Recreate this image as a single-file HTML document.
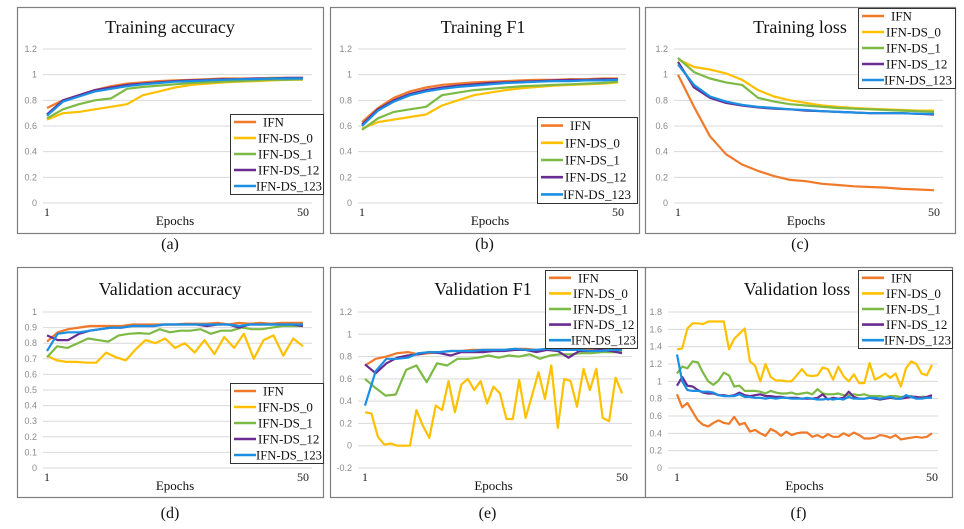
<!DOCTYPE html>
<html><head><meta charset="utf-8"><style>
html,body{margin:0;padding:0;background:#fff;}
svg{display:block;}
</style></head><body>
<svg id="fig" width="964" height="529" viewBox="0 0 964 529" xmlns="http://www.w3.org/2000/svg"></svg>
<script>
const seriesNames = ["IFN","IFN-DS_0","IFN-DS_1","IFN-DS_12","IFN-DS_123"];
const seriesColors = ["#F07A2A","#FFC000","#7CBA45","#6A2C91","#1A8FE3"];

const trainAccIFN = [0.74,0.80,0.84,0.88,0.91,0.93,0.94,0.95,0.955,0.96,0.965,0.97,0.97,0.97,0.975,0.975,0.975];
const trainAccDS0 = [0.65,0.70,0.71,0.73,0.75,0.77,0.84,0.87,0.90,0.92,0.93,0.94,0.945,0.95,0.955,0.96,0.96];
const trainAccDS1 = [0.66,0.73,0.77,0.80,0.815,0.89,0.905,0.915,0.925,0.935,0.94,0.945,0.95,0.955,0.96,0.96,0.965];
const trainAccDS12 = [0.69,0.80,0.84,0.88,0.90,0.92,0.93,0.94,0.95,0.955,0.96,0.965,0.965,0.97,0.97,0.975,0.975];
const trainAccDS123 = [0.68,0.79,0.83,0.87,0.89,0.91,0.925,0.935,0.945,0.95,0.955,0.96,0.965,0.965,0.97,0.97,0.97];

const trainF1IFN = [0.63,0.74,0.82,0.87,0.90,0.92,0.93,0.94,0.945,0.95,0.955,0.96,0.96,0.965,0.965,0.97,0.97];
const trainF1DS0 = [0.58,0.63,0.65,0.67,0.69,0.76,0.80,0.84,0.86,0.88,0.895,0.905,0.915,0.92,0.925,0.93,0.94];
const trainF1DS1 = [0.57,0.66,0.71,0.73,0.75,0.84,0.86,0.88,0.89,0.90,0.91,0.915,0.92,0.925,0.93,0.935,0.945];
const trainF1DS12 = [0.61,0.73,0.80,0.85,0.88,0.90,0.915,0.925,0.935,0.94,0.945,0.95,0.955,0.96,0.96,0.965,0.965];
const trainF1DS123 = [0.60,0.72,0.79,0.84,0.87,0.89,0.905,0.915,0.925,0.935,0.94,0.945,0.95,0.95,0.955,0.955,0.96];

const trainLossIFN = [1.0,0.75,0.52,0.38,0.30,0.25,0.21,0.18,0.17,0.15,0.14,0.13,0.125,0.12,0.11,0.105,0.10];
const trainLossDS0 = [1.12,1.06,1.04,1.01,0.96,0.88,0.83,0.80,0.78,0.76,0.75,0.74,0.735,0.73,0.725,0.72,0.72];
const trainLossDS1 = [1.13,1.02,0.97,0.94,0.92,0.82,0.79,0.77,0.76,0.75,0.74,0.735,0.73,0.725,0.72,0.715,0.71];
const trainLossDS12 = [1.10,0.90,0.82,0.78,0.76,0.745,0.735,0.73,0.72,0.715,0.71,0.705,0.70,0.70,0.70,0.695,0.69];
const trainLossDS123 = [1.08,0.92,0.83,0.79,0.765,0.75,0.74,0.73,0.725,0.715,0.71,0.705,0.70,0.70,0.70,0.695,0.695];

const valAccIFN = [0.81,0.87,0.89,0.90,0.91,0.91,0.91,0.91,0.92,0.92,0.92,0.92,0.92,0.925,0.925,0.925,0.93,0.92,0.93,0.925,0.93,0.925,0.93,0.93,0.93];
const valAccDS0 = [0.72,0.69,0.68,0.68,0.675,0.675,0.74,0.71,0.69,0.76,0.82,0.80,0.83,0.77,0.80,0.74,0.82,0.73,0.84,0.77,0.86,0.70,0.82,0.85,0.72,0.83,0.78];
const valAccDS1 = [0.71,0.78,0.77,0.80,0.83,0.82,0.81,0.85,0.86,0.865,0.86,0.89,0.87,0.88,0.88,0.89,0.86,0.88,0.88,0.90,0.89,0.89,0.90,0.91,0.91,0.91];
const valAccDS12 = [0.85,0.82,0.82,0.86,0.88,0.89,0.90,0.90,0.91,0.91,0.91,0.92,0.92,0.92,0.92,0.91,0.92,0.92,0.90,0.92,0.92,0.92,0.92,0.92,0.91];
const valAccDS123 = [0.75,0.86,0.87,0.87,0.88,0.89,0.90,0.90,0.91,0.91,0.91,0.92,0.92,0.92,0.92,0.92,0.92,0.92,0.91,0.92,0.92,0.92,0.92,0.92,0.92];

const valF1IFN = [0.72,0.78,0.80,0.83,0.84,0.82,0.83,0.84,0.85,0.85,0.86,0.86,0.86,0.86,0.87,0.87,0.86,0.86,0.86,0.86,0.87,0.86,0.86,0.86,0.86];
const valF1DS0 = [0.30,0.29,0.08,0.01,0.02,0.0,0.0,0.0,0.32,0.18,0.07,0.36,0.32,0.58,0.30,0.55,0.60,0.50,0.58,0.38,0.53,0.47,0.24,0.24,0.59,0.25,0.45,0.66,0.42,0.72,0.16,0.60,0.58,0.35,0.69,0.50,0.69,0.25,0.22,0.61,0.47];
const valF1DS1 = [0.60,0.52,0.45,0.46,0.68,0.72,0.57,0.74,0.72,0.78,0.78,0.79,0.81,0.79,0.81,0.80,0.82,0.78,0.81,0.82,0.82,0.83,0.83,0.84,0.84,0.84];
const valF1DS12 = [0.73,0.65,0.74,0.79,0.81,0.82,0.84,0.83,0.81,0.84,0.84,0.84,0.85,0.85,0.86,0.86,0.84,0.86,0.85,0.79,0.85,0.85,0.86,0.85,0.83];
const valF1DS123 = [0.36,0.67,0.78,0.78,0.79,0.83,0.84,0.84,0.85,0.85,0.85,0.86,0.86,0.86,0.87,0.86,0.86,0.87,0.86,0.86,0.86,0.85,0.85,0.86,0.86];

const valLossIFN = [0.85,0.70,0.75,0.65,0.55,0.50,0.48,0.52,0.55,0.52,0.51,0.59,0.50,0.52,0.42,0.44,0.40,0.37,0.45,0.42,0.37,0.42,0.38,0.40,0.41,0.41,0.36,0.38,0.35,0.39,0.36,0.36,0.40,0.37,0.41,0.38,0.34,0.34,0.35,0.38,0.37,0.35,0.38,0.33,0.34,0.35,0.36,0.35,0.36,0.40];
const valLossDS0 = [1.37,1.38,1.61,1.67,1.67,1.66,1.69,1.69,1.69,1.69,1.37,1.49,1.55,1.61,1.23,1.18,1.00,1.20,1.05,1.01,1.01,1.00,1.00,1.07,1.14,1.07,1.06,1.07,1.16,1.14,1.02,1.17,1.06,1.00,1.08,0.98,0.98,1.21,1.02,1.05,1.09,1.04,1.09,0.94,1.15,1.23,1.20,1.09,1.07,1.19];
const valLossDS1 = [1.09,1.17,1.15,1.23,1.22,1.10,1.00,0.96,1.01,1.10,1.07,0.94,0.95,0.89,0.89,0.89,0.88,0.86,0.89,0.87,0.86,0.86,0.87,0.85,0.86,0.87,0.85,0.91,0.86,0.85,0.85,0.86,0.84,0.84,0.85,0.84,0.85,0.83,0.83,0.83,0.82,0.83,0.83,0.82,0.82,0.83,0.81,0.82,0.82,0.83];
const valLossDS12 = [0.95,1.05,0.95,0.94,0.90,0.87,0.86,0.86,0.84,0.84,0.83,0.84,0.87,0.84,0.83,0.84,0.85,0.83,0.83,0.82,0.82,0.81,0.81,0.81,0.80,0.80,0.80,0.81,0.85,0.79,0.81,0.80,0.81,0.88,0.82,0.80,0.80,0.81,0.80,0.79,0.80,0.81,0.80,0.80,0.81,0.82,0.82,0.81,0.82,0.84];
const valLossDS123 = [1.31,1.00,0.90,0.89,0.89,0.88,0.88,0.87,0.84,0.83,0.83,0.83,0.85,0.82,0.82,0.81,0.81,0.80,0.81,0.80,0.81,0.81,0.80,0.80,0.80,0.81,0.80,0.79,0.79,0.80,0.79,0.80,0.79,0.82,0.80,0.80,0.80,0.81,0.81,0.80,0.81,0.82,0.80,0.80,0.84,0.82,0.80,0.80,0.81,0.81];

const ticksA = ["0","0.2","0.4","0.6","0.8","1","1.2"];
const ticksD = ["0","0.1","0.2","0.3","0.4","0.5","0.6","0.7","0.8","0.9","1"];
const ticksE = ["-0.2","0","0.2","0.4","0.6","0.8","1","1.2"];
const ticksF = ["0","0.2","0.4","0.6","0.8","1","1.2","1.4","1.6","1.8"];
const xTickLabels = ["1","50"];

const NS = "http://www.w3.org/2000/svg";
const svg = document.getElementById("fig");
function mk(tag, attrs, parent, text){
  const e = document.createElementNS(NS, tag);
  for (const k in attrs) e.setAttribute(k, attrs[k]);
  if (text !== undefined) e.textContent = text;
  (parent || svg).appendChild(e);
  return e;
}

const panels = [
 {id:"a", title:"Training accuracy", box:[17,7,323,233], xs:[47,303], ypx:[203,49], ticks:ticksA, grid:[43,312], tcx:170, tcy:33, epy:225, xly:216, leg:[230,114,323,194], cap:249, series:[trainAccIFN,trainAccDS0,trainAccDS1,trainAccDS12,trainAccDS123]},
 {id:"b", title:"Training F1", box:[330,7,639,233], xs:[362,618], ypx:[203,49], ticks:ticksA, grid:[358,626], tcx:483, tcy:33, epy:225, xly:216, leg:[537,117,637,203], cap:249, series:[trainF1IFN,trainF1DS0,trainF1DS1,trainF1DS12,trainF1DS123]},
 {id:"c", title:"Training loss", box:[645,7,955,233], xs:[678,934], ypx:[203,49], ticks:ticksA, grid:[674,943], tcx:800, tcy:33, epy:225, xly:216, leg:[858,8,955,88], cap:249, series:[trainLossIFN,trainLossDS0,trainLossDS1,trainLossDS12,trainLossDS123]},
 {id:"d", title:"Validation accuracy", box:[17,267,323,497], xs:[47,303], ypx:[468,312], ticks:ticksD, grid:[43,312], tcx:170, tcy:295, epy:490, xly:481, leg:[230,383,323,463], cap:518, series:[valAccIFN,valAccDS0,valAccDS1,valAccDS12,valAccDS123]},
 {id:"e", title:"Validation F1", box:[330,267,645,497], xs:[365,622], ypx:[468,312], ticks:ticksE, grid:[358,632], tcx:483, tcy:295, epy:490, xly:481, leg:[545,270,637,348], cap:518, series:[valF1IFN,valF1DS0,valF1DS1,valF1DS12,valF1DS123]},
 {id:"f", title:"Validation loss", box:[645,267,952,497], xs:[677,932], ypx:[468,312], ticks:ticksF, grid:[668,938], tcx:797, tcy:295, epy:490, xly:481, leg:[858,270,952,348], cap:518, series:[valLossIFN,valLossDS0,valLossDS1,valLossDS12,valLossDS123]}
];

panels.forEach(p => {
  const g = mk("g", {});
  
  
  const [bx0,by0,bx1,by1] = p.box;
  const frame = mk("rect", {x:bx0+0.5, y:by0+0.5, width:bx1-bx0, height:by1-by0, fill:"#fff", stroke:"#7f7f7f", "stroke-width":1.2}, g);
  
  
  const vmin = parseFloat(p.ticks[0]), vmax = parseFloat(p.ticks[p.ticks.length-1]);
  const yS = v => p.ypx[0] + (v - vmin) / (vmax - vmin) * (p.ypx[1] - p.ypx[0]);
  const xS = e => p.xs[0] + (e - 1) / 49 * (p.xs[1] - p.xs[0]);
  p.ticks.forEach(t => {
    const y = yS(parseFloat(t));
    const gl = mk("line", {x1:p.grid[0], x2:p.grid[1], y1:y, y2:y, stroke:"#d9d9d9", "stroke-width":1}, g);
    
    
    const tl = mk("text", {x:p.grid[0]-6, y:y+3, "text-anchor":"end", "font-family":"Liberation Sans, sans-serif", "font-size":9, fill:"#8a8a8a"}, g, t);
    
    
  });
  [1,50].forEach((e,i) => {
    const xl = mk("text", {x:xS(e), y:p.xly, "text-anchor":"middle", "font-family":"Liberation Serif, serif", "font-size":12, fill:"#222"}, g, xTickLabels[i]);
    
    
  });
  const tt = mk("text", {x:p.tcx, y:p.tcy, "text-anchor":"middle", "font-family":"Liberation Serif, serif", "font-size":18, fill:"#111"}, g, p.title);
  
  
  const ep = mk("text", {x:(p.xs[0]+p.xs[1])/2, y:p.epy, "text-anchor":"middle", "font-family":"Liberation Serif, serif", "font-size":13, fill:"#111"}, g, "Epochs");
  
  
  p.series.forEach((arr, si) => {
    const n = arr.length;
    const pts = arr.map((v,i) => xS(1 + i*49/(n-1)).toFixed(1) + "," + yS(v).toFixed(1)).join(" ");
    const pl = mk("polyline", {points:pts, fill:"none", stroke:seriesColors[si], "stroke-width":2.2, "stroke-linejoin":"round"}, g);
    
    
  });
  const [lx0,ly0,lx1,ly1] = p.leg;
  const lg = mk("g", {}, g);
  
  
  mk("rect", {x:lx0+0.5, y:ly0+0.5, width:lx1-lx0, height:ly1-ly0, fill:"#fff", stroke:"#333", "stroke-width":1}, lg);
  const rh = (ly1-ly0)/5;
  seriesNames.forEach((nm, si) => {
    const cy = ly0 + rh*(si+0.5);
    const eg = mk("g", {}, lg);
    
    
    mk("line", {x1:lx0+4, x2:lx0+26, y1:cy, y2:cy, stroke:seriesColors[si], "stroke-width":2.6}, eg);
    const tx = lx0 + (si==0 ? 33 : (si==4 ? 26 : 28));
    const attrs = {x:tx, y:cy+4.5, "font-family":"Liberation Serif, serif", "font-size":13, fill:"#111"};
    if (si==4) { attrs.textLength = Math.min(68, lx1 - tx - 1); attrs.lengthAdjust = "spacingAndGlyphs"; }
    mk("text", attrs, eg, nm);
  });
  const cp = mk("text", {x:(bx0+bx1)/2, y:p.cap, "text-anchor":"middle", "font-family":"Liberation Serif, serif", "font-size":16, fill:"#111"}, g, "(" + p.id + ")");
  
  
});
</script>
</body></html>
